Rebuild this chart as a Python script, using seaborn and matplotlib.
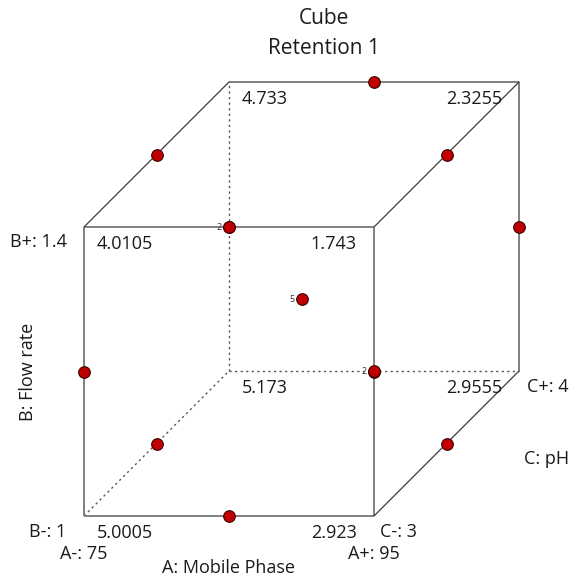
import matplotlib
matplotlib.use("Agg")
import matplotlib.pyplot as plt
import seaborn as sns
import pandas as pd
import numpy as np

sns.set_theme(style="white")
plt.rcParams['font.family'] = ['Open Sans', 'DejaVu Sans']

# ---- data ----
title_lines = ["Cube", "Retention 1"]
factor_names = ["A: Mobile Phase", "B: Flow rate", "C: pH"]
a_levels = ["A-: 75", "A+: 95"]
b_levels = ["B-: 1", "B+: 1.4"]
c_levels = ["C-: 3", "C+: 4"]
# corner predictions (a, b, c, value)
corner_a = [-1, 1, -1, 1, -1, 1, -1, 1]
corner_b = [-1, -1, 1, 1, -1, -1, 1, 1]
corner_c = [-1, -1, -1, -1, 1, 1, 1, 1]
corner_vals = ["5.0005", "2.923", "4.0105", "1.743", "5.173", "2.9555", "4.733", "2.3255"]
# design points (Box-Behnken) in coded units
pt_a = [0, 0, -1, 1, 0, 0, -1, 1, -1, 1, -1, 1, 0]
pt_b = [-1, 1, 0, 0, -1, 1, 0, 0, -1, -1, 1, 1, 0]
pt_c = [-1, -1, -1, -1, 1, 1, 1, 1, 0, 0, 0, 0, 0]
pt_count = [1, 1, 1, 1, 1, 1, 1, 1, 1, 1, 1, 1, 5]

# ---- projection (layout) ----
X0, Y0, WA, HB, DX, DY = 84, 516, 290, 289, 145, 145
def proj(a, b, c):
    a, b, c = np.asarray(a, float), np.asarray(b, float), np.asarray(c, float)
    x = X0 + (a + 1) / 2 * WA + (c + 1) / 2 * DX
    y = Y0 - (b + 1) / 2 * HB - (c + 1) / 2 * DY
    return x, y

fig = plt.figure(figsize=(5.82, 5.79), dpi=100)
ax = fig.add_axes([0, 0, 1, 1])

def edge(p, q, **kw):
    x, y = proj([p[0], q[0]], [p[1], q[1]], [p[2], q[2]])
    ax.plot(x, y, **kw)

face = dict(color="#808080", lw=1.4, solid_capstyle="butt", zorder=2)
depth = dict(color="#3c3c3c", lw=0.9, zorder=2)
dashed = dict(color="#555555", lw=1.0, ls=(0, (1.6, 2.4)), zorder=1)
# front face
edge((-1, -1, -1), (1, -1, -1), **face)
edge((-1, 1, -1), (1, 1, -1), **face)
edge((-1, -1, -1), (-1, 1, -1), **face)
edge((1, -1, -1), (1, 1, -1), **face)
# back face
edge((-1, 1, 1), (1, 1, 1), **face)
edge((1, -1, 1), (1, 1, 1), **face)
edge((-1, -1, 1), (-1, 1, 1), **dashed)
edge((-1, -1, 1), (1, -1, 1), **dashed)
# depth edges
edge((-1, 1, -1), (-1, 1, 1), **depth)
edge((1, 1, -1), (1, 1, 1), **depth)
edge((1, -1, -1), (1, -1, 1), **depth)
edge((-1, -1, -1), (-1, -1, 1), **dashed)

# design points
px, py = proj(pt_a, pt_b, pt_c)
df = pd.DataFrame({"x": px, "y": py, "n": pt_count})
sns.scatterplot(data=df, x="x", y="y", ax=ax, s=70, color="#c00000",
                edgecolor="#3a0000", linewidth=0.8, zorder=5, legend=False)
# overlap counts (points that project onto the same spot)
groups = []
for x, y, n in zip(px, py, pt_count):
    for g in groups:
        if abs(g[0] - x) < 3 and abs(g[1] - y) < 3:
            g[2] += n
            break
    else:
        groups.append([x, y, n])
for x, y, n in groups:
    if n > 1:
        ax.text(x - 7, y, str(n), fontsize=6.5, ha="right", va="center", color="#333333")

ax.set_xlim(0, 582)
ax.set_ylim(579, 0)
ax.axis("off")

fs = 13
tc = "#1a1a1a"
# corner values
cx, cy = proj(corner_a, corner_b, corner_c)
for x, y, a, v in zip(cx, cy, corner_a, corner_vals):
    if a < 0:
        ax.text(x + 13, y + 17, v, fontsize=fs, ha="left", va="center", color=tc)
    else:
        ax.text(x - 17, y + 17, v, fontsize=fs, ha="right", va="center", color=tc)

# titles
tx = 324
ax.text(tx, 18, title_lines[0], fontsize=15, ha="center", va="center", color=tc)
ax.text(tx, 49, title_lines[1], fontsize=15, ha="center", va="center", color=tc)

# factor level labels
x, y = proj(-1, -1, -1)
ax.text(x - 18, y + 16, b_levels[0], fontsize=fs, ha="right", va="center", color=tc)
ax.text(x, y + 38, a_levels[0], fontsize=fs, ha="center", va="center", color=tc)
x, y = proj(-1, 1, -1)
ax.text(x - 17, y + 15, b_levels[1], fontsize=fs, ha="right", va="center", color=tc)
x, y = proj(1, -1, -1)
ax.text(x, y + 38, a_levels[1], fontsize=fs, ha="center", va="center", color=tc)
ax.text(x + 6, y + 16, c_levels[0], fontsize=fs, ha="left", va="center", color=tc)
x, y = proj(1, -1, 1)
ax.text(x + 8, y + 16, c_levels[1], fontsize=fs, ha="left", va="center", color=tc)

# factor names
x, y = proj(0, -1, -1)
ax.text(x, y + 52, factor_names[0], fontsize=fs, ha="center", va="center", color=tc)
x, y = proj(-1, 0, -1)
ax.text(x - 56, y, factor_names[1], fontsize=fs, ha="center", va="center", rotation=90, color=tc)
x, y = proj(1, -1, 0)
ax.text(x + 100, y + 16, factor_names[2], fontsize=fs, ha="center", va="center", color=tc)

fig.savefig("out.png", dpi=100, facecolor="white")
